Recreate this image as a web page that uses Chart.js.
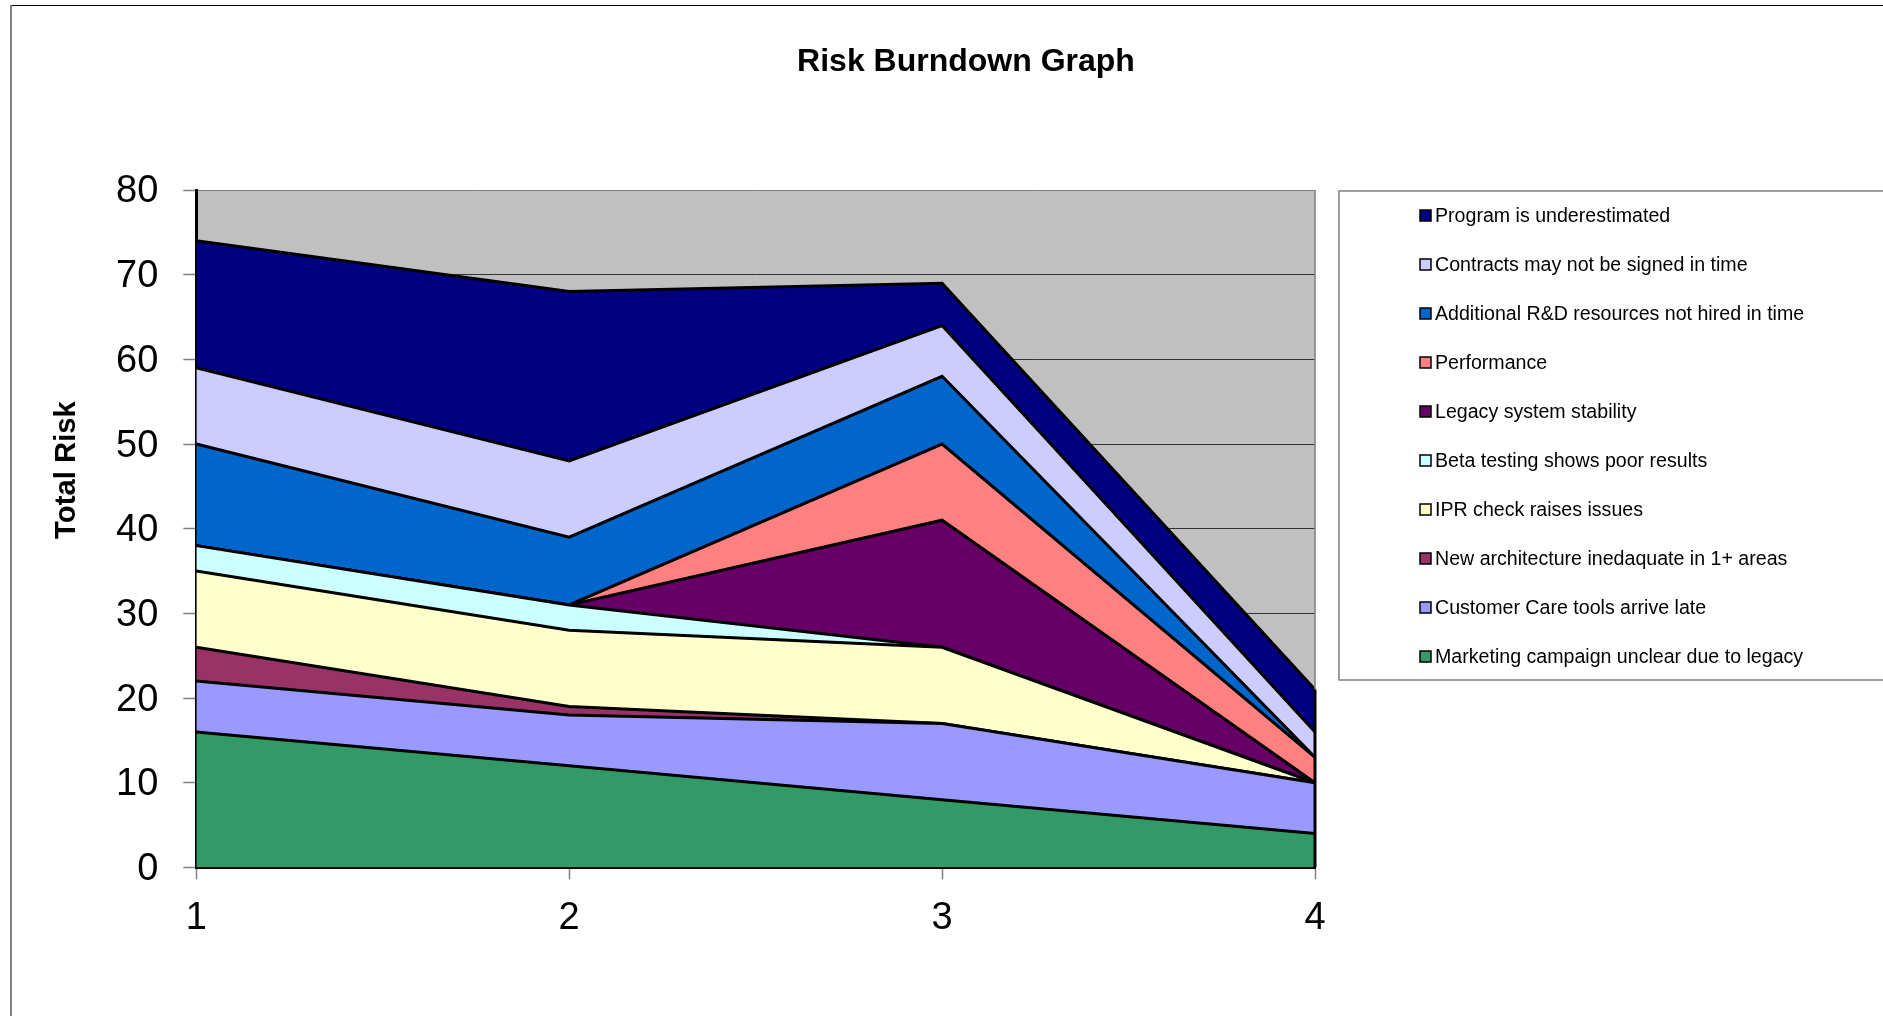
<!DOCTYPE html>
<html>
<head>
<meta charset="utf-8">
<title>Risk Burndown Graph</title>
<script src="https://cdn.jsdelivr.net/npm/chart.js@4.4.1/dist/chart.umd.min.js"></script>
<style>
    body { margin: 0; background: #ffffff; }
    #wrap { position: relative; width: 1883px; height: 1016px; }
</style>
</head>
<body>
<div id="wrap">
    <canvas id="risk-chart" width="1883" height="1016"></canvas>
</div>
<script>
// periods on the x axis
var periods = ['1', '2', '3', '4'];

// risk names, bottom of the stack first
var riskNames = [
    'Marketing campaign unclear due to legacy',
    'Customer Care tools arrive late',
    'New architecture inedaquate in 1+ areas',
    'IPR check raises issues',
    'Beta testing shows poor results',
    'Legacy system stability',
    'Performance',
    'Additional R&D resources not hired in time',
    'Contracts may not be signed in time',
    'Program is underestimated'
];

// risk values per period
var marketingCampaign = [16, 12, 8, 4];
var customerCareTools = [6, 6, 9, 6];
var newArchitecture = [4, 1, 0, 0];
var iprCheck = [9, 9, 9, 0];
var betaTesting = [3, 3, 0, 0];
var legacyStability = [0, 0, 15, 0];
var performanceRisk = [0, 0, 9, 3];
var additionalRD = [12, 8, 8, 0];
var contractsSigned = [9, 9, 6, 3];
var programEstimate = [15, 20, 5, 5];

var riskValues = [
    marketingCampaign, customerCareTools, newArchitecture, iprCheck, betaTesting,
    legacyStability, performanceRisk, additionalRD, contractsSigned, programEstimate
];

var riskColors = [
    '#339966', '#9999FF', '#993366', '#FFFFCC', '#CCFFFF',
    '#660066', '#FF8080', '#0066CC', '#CCCCFF', '#000080'
];

var yMin = 0;
var yMax = 80;
var yStep = 10;

var fontName = '"Liberation Sans", Arial, sans-serif';


function buildDatasets() {
    let datasets = [];
    for (let i = 0; i < riskNames.length; i++) {
        datasets.push({
            label: riskNames[i],
            data: riskValues[i],
            backgroundColor: riskColors[i],
            borderColor: '#000000',
            borderWidth: 3,
            pointRadius: 0,
            pointHoverRadius: 0,
            tension: 0,
            fill: i === 0 ? 'origin' : '-1'
        });
    }
    return datasets;
}


// background, frame, title, axis title and legend box
var chartDecor = {
    id: 'chartDecor',
    beforeDraw: function (chart) {
        let ctx = chart.ctx;
        let area = chart.chartArea;
        ctx.save();
        ctx.fillStyle = '#ffffff';
        ctx.fillRect(0, 0, chart.width, chart.height);

        ctx.fillStyle = '#000000';
        ctx.fillRect(11, 5, chart.width - 11, 1);
        ctx.fillStyle = '#808080';
        ctx.fillRect(10, 5, 2, chart.height - 5);

        ctx.fillStyle = '#C0C0C0';
        ctx.fillRect(area.left, area.top, area.right - area.left, area.bottom - area.top);
        ctx.restore();
    },
    afterDatasetsDraw: function (chart) {
        let ctx = chart.ctx;
        let area = chart.chartArea;
        let last = periods.length - 1;
        let total = 0;
        for (let i = 0; i < riskValues.length; i++) {
            total += riskValues[i][last];
        }
        let x = chart.scales.x.getPixelForValue(last);
        let yTop = chart.scales.y.getPixelForValue(total);

        ctx.save();
        ctx.lineWidth = 1.5;
        ctx.strokeStyle = '#808080';
        ctx.beginPath();
        ctx.moveTo(x, area.top);
        ctx.lineTo(x, yTop);
        ctx.stroke();
        ctx.lineWidth = 3;
        ctx.strokeStyle = '#000000';
        ctx.beginPath();
        ctx.moveTo(x, yTop);
        ctx.lineTo(x, area.bottom);
        ctx.stroke();
        ctx.restore();
    },
    afterDraw: function (chart) {
        let ctx = chart.ctx;
        ctx.save();
        ctx.fillStyle = '#000000';

        // title
        ctx.font = 'bold 32px ' + fontName;
        ctx.textAlign = 'center';
        ctx.textBaseline = 'alphabetic';
        ctx.fillText('Risk Burndown Graph', 966, 71);

        // y axis title
        ctx.save();
        ctx.translate(75, 470);
        ctx.rotate(-Math.PI / 2);
        ctx.font = 'bold 29.3px ' + fontName;
        ctx.fillText('Total Risk', 0, 0);
        ctx.restore();

        // legend
        let boxLeft = 1339;
        let boxTop = 191;
        let boxBottom = 680;
        ctx.strokeStyle = '#808080';
        ctx.lineWidth = 1.5;
        ctx.strokeRect(boxLeft, boxTop, chart.width + 20 - boxLeft, boxBottom - boxTop);

        ctx.font = '19.6px ' + fontName;
        ctx.textAlign = 'left';
        ctx.textBaseline = 'middle';
        let datasets = chart.data.datasets;
        for (let i = 0; i < datasets.length; i++) {
            let ds = datasets[datasets.length - 1 - i];
            let cy = 215.5 + i * 49;
            ctx.fillStyle = ds.backgroundColor;
            ctx.fillRect(1420, cy - 5.5, 11, 11);
            ctx.strokeStyle = '#000000';
            ctx.lineWidth = 1.5;
            ctx.strokeRect(1420, cy - 5.5, 11, 11);
            ctx.fillStyle = '#000000';
            ctx.fillText(ds.label, 1435, cy + 1);
        }
        ctx.restore();
    }
};


function initializeRiskChart() {
    let ctx = document.getElementById('risk-chart').getContext('2d');

    let chart = new Chart(ctx, {
        type: 'line',
        data: {
            labels: periods,
            datasets: buildDatasets()
        },
        options: {
            responsive: false,
            animation: false,
            devicePixelRatio: 1,
            layout: {
                padding: {
                    top: 190,
                    left: 91,
                    right: 568,
                    bottom: 58
                }
            },
            scales: {
                x: {
                    offset: false,
                    grid: {
                        drawOnChartArea: false,
                        drawTicks: true,
                        tickLength: 12,
                        tickColor: '#808080',
                        tickWidth: 1.5
                    },
                    border: {
                        display: true,
                        color: '#000000',
                        width: 3
                    },
                    ticks: {
                        color: '#000000',
                        padding: 16.5,
                        font: { family: fontName, size: 38 }
                    }
                },
                y: {
                    stacked: true,
                    min: yMin,
                    max: yMax,
                    ticks: {
                        stepSize: yStep,
                        color: '#000000',
                        padding: 25,
                        labelOffset: 2,
                        font: { family: fontName, size: 38 }
                    },
                    grid: {
                        color: function (context) {
                            return context.tick && context.tick.value === yMax ? '#808080' : '#333333';
                        },
                        lineWidth: 1,
                        drawTicks: true,
                        tickLength: 13,
                        tickColor: '#808080',
                        tickWidth: 1.5
                    },
                    border: {
                        display: true,
                        color: '#000000',
                        width: 3
                    }
                }
            },
            plugins: {
                legend: { display: false },
                title: { display: false },
                tooltip: { enabled: false },
                filler: { propagate: false }
            }
        },
        plugins: [chartDecor]
    });

    return chart;
}

initializeRiskChart();
</script>
</body>
</html>
